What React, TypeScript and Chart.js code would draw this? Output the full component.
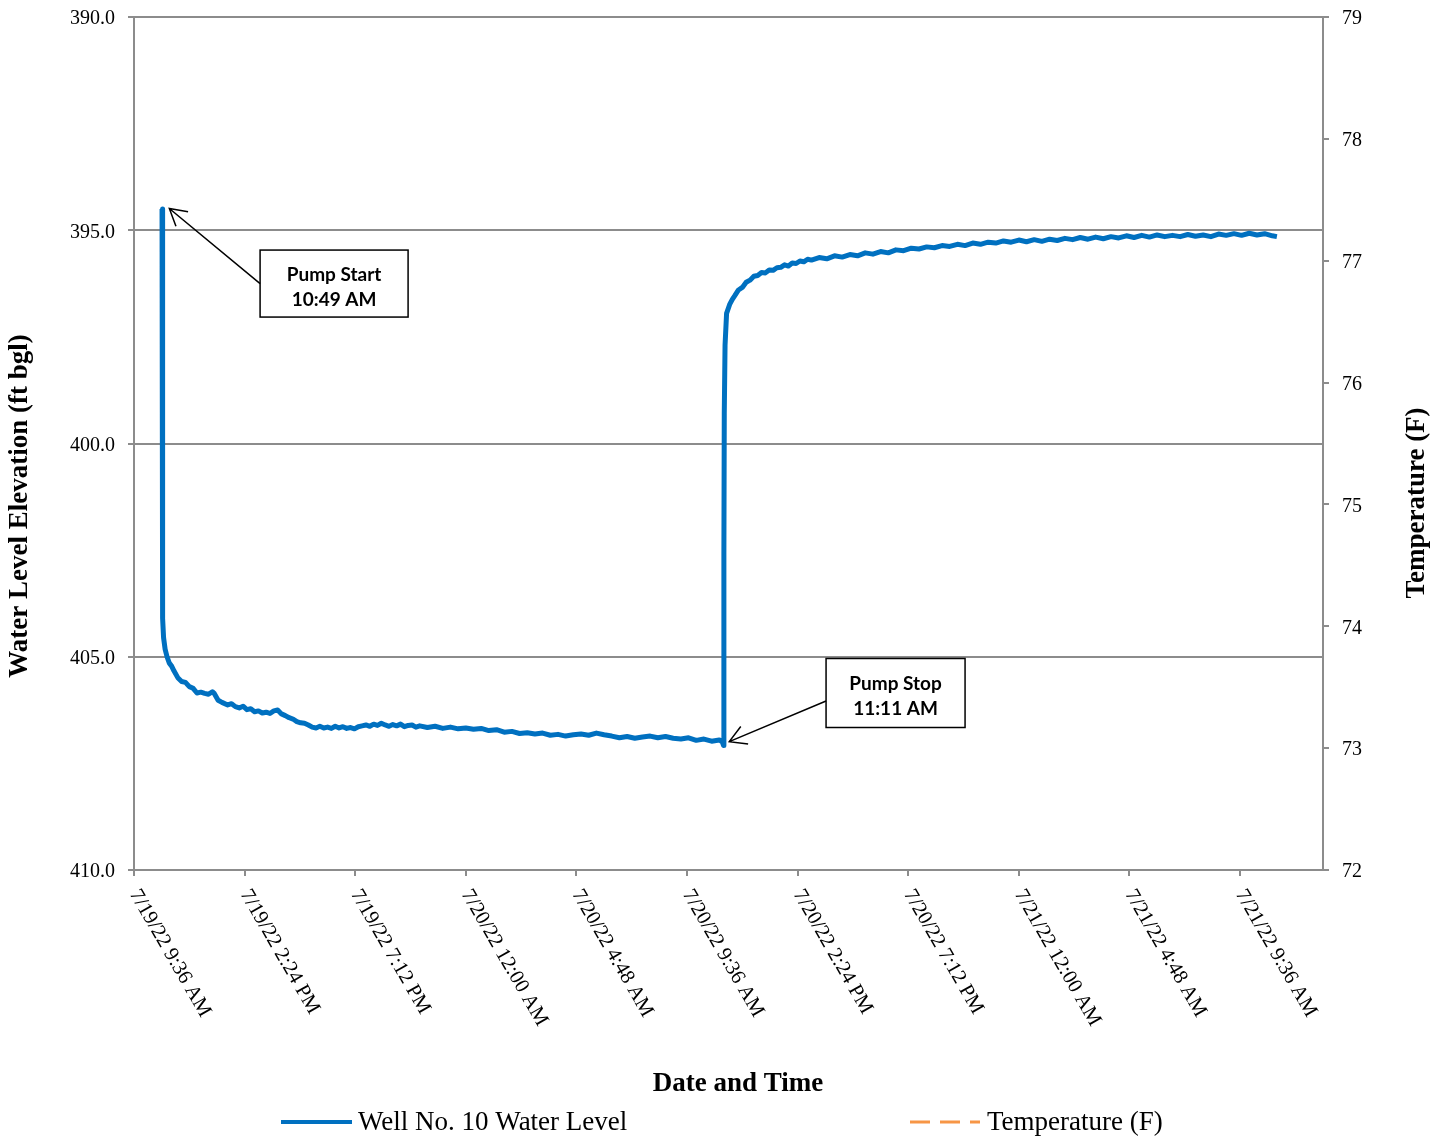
import React, { useEffect, useRef } from "react";
import { Chart, registerables } from "chart.js";

Chart.register(...registerables);

// ---------- DATA ----------
const X_MIN_TIME = "7/19 9:36";
const X_MAX_TIME = "7/21 13:12";

const X_TICK_TIMES = [
  "7/19 9:36", "7/19 14:24", "7/19 19:12", "7/20 0:00", "7/20 4:48", "7/20 9:36",
  "7/20 14:24", "7/20 19:12", "7/21 0:00", "7/21 4:48", "7/21 9:36",
];
const X_TICK_LABELS = [
  "7/19/22 9:36 AM", "7/19/22 2:24 PM", "7/19/22 7:12 PM", "7/20/22 12:00 AM",
  "7/20/22 4:48 AM", "7/20/22 9:36 AM", "7/20/22 2:24 PM", "7/20/22 7:12 PM",
  "7/21/22 12:00 AM", "7/21/22 4:48 AM", "7/21/22 9:36 AM",
];

// Pumping phase (7/19 10:49 AM start, through 7/20 11:11 AM stop)
const DRAWDOWN_TIMES = [
  "7/19 10:49", "7/19 10:50", "7/19 10:51", "7/19 10:53",
  "7/19 10:57", "7/19 11:02", "7/19 11:08", "7/19 11:14", "7/19 11:20", "7/19 11:30",
  "7/19 11:40", "7/19 11:50", "7/19 12:00", "7/19 12:10", "7/19 12:20", "7/19 12:30",
  "7/19 12:40", "7/19 12:50", "7/19 13:00", "7/19 13:05", "7/19 13:15", "7/19 13:25",
  "7/19 13:40", "7/19 13:50", "7/19 14:00", "7/19 14:10", "7/19 14:20", "7/19 14:30",
  "7/19 14:40", "7/19 14:50", "7/19 15:00", "7/19 15:10", "7/19 15:20", "7/19 15:30",
  "7/19 15:40", "7/19 15:50", "7/19 16:00", "7/19 16:10", "7/19 16:20", "7/19 16:30",
  "7/19 16:40", "7/19 16:50", "7/19 17:00", "7/19 17:10", "7/19 17:20", "7/19 17:30",
  "7/19 17:40", "7/19 17:50", "7/19 18:00", "7/19 18:10", "7/19 18:20", "7/19 18:30",
  "7/19 18:40", "7/19 18:50", "7/19 19:00", "7/19 19:10", "7/19 19:20", "7/19 19:30",
  "7/19 19:40", "7/19 19:50", "7/19 20:00", "7/19 20:10", "7/19 20:20", "7/19 20:30",
  "7/19 20:40", "7/19 20:50", "7/19 21:00", "7/19 21:10", "7/19 21:20", "7/19 21:30",
  "7/19 21:40", "7/19 21:50", "7/19 22:00", "7/19 22:20", "7/19 22:40", "7/19 23:00",
  "7/19 23:20", "7/19 23:40",
  "7/20 0:00", "7/20 0:20", "7/20 0:40", "7/20 1:00", "7/20 1:20", "7/20 1:40",
  "7/20 2:00", "7/20 2:20", "7/20 2:40", "7/20 3:00", "7/20 3:20", "7/20 3:40",
  "7/20 4:00", "7/20 4:20", "7/20 4:40", "7/20 5:00", "7/20 5:20", "7/20 5:40",
  "7/20 6:00", "7/20 6:20", "7/20 6:40", "7/20 7:00", "7/20 7:20", "7/20 7:40",
  "7/20 8:00", "7/20 8:20", "7/20 8:40", "7/20 9:00", "7/20 9:20", "7/20 9:40",
  "7/20 10:00", "7/20 10:20", "7/20 10:40", "7/20 11:00", "7/20 11:08", "7/20 11:11",
];
const DRAWDOWN_LEVELS = [
  394.5, 403.0, 404.1, 404.55,
  404.82, 405.0, 405.15, 405.22, 405.33, 405.49,
  405.58, 405.6, 405.7, 405.74, 405.85, 405.83,
  405.86, 405.88, 405.82, 405.86, 406.02, 406.07,
  406.13, 406.1, 406.17, 406.2, 406.16, 406.24,
  406.22, 406.29, 406.27, 406.32, 406.3, 406.33,
  406.27, 406.25, 406.34, 406.38, 406.43, 406.46,
  406.52, 406.55, 406.56, 406.6, 406.65, 406.67,
  406.63, 406.67, 406.65, 406.68, 406.63, 406.67,
  406.64, 406.68, 406.66, 406.69, 406.64, 406.62,
  406.6, 406.63, 406.58, 406.61, 406.56, 406.6,
  406.63, 406.59, 406.62, 406.58, 406.64, 406.61,
  406.6, 406.65, 406.62, 406.66, 406.63, 406.68,
  406.65, 406.69,
  406.67, 406.7, 406.68, 406.73, 406.71, 406.77,
  406.75, 406.8, 406.78, 406.81, 406.79, 406.84,
  406.82, 406.86, 406.83, 406.81, 406.84, 406.79,
  406.83, 406.86, 406.9, 406.87, 406.91, 406.88,
  406.86, 406.9, 406.87, 406.91, 406.93, 406.9,
  406.96, 406.93, 406.98, 406.95, 407.0, 407.08,
];

// Recovery phase (after 7/20 11:11 AM stop)
const RECOVERY_TIMES = [
  "7/20 11:12", "7/20 11:13", "7/20 11:15", "7/20 11:19", "7/20 11:27", "7/20 11:34",
  "7/20 11:40", "7/20 11:50", "7/20 12:00", "7/20 12:10", "7/20 12:20", "7/20 12:30",
  "7/20 12:40", "7/20 12:50", "7/20 13:00", "7/20 13:10", "7/20 13:20", "7/20 13:30",
  "7/20 13:40", "7/20 13:50", "7/20 14:00", "7/20 14:10", "7/20 14:20", "7/20 14:30",
  "7/20 14:40", "7/20 14:50", "7/20 15:00", "7/20 15:20", "7/20 15:40", "7/20 16:00",
  "7/20 16:20", "7/20 16:40", "7/20 17:00", "7/20 17:20", "7/20 17:40", "7/20 18:00",
  "7/20 18:20", "7/20 18:40", "7/20 19:00", "7/20 19:20", "7/20 19:40", "7/20 20:00",
  "7/20 20:20", "7/20 20:40", "7/20 21:00", "7/20 21:20", "7/20 21:40", "7/20 22:00",
  "7/20 22:20", "7/20 22:40", "7/20 23:00", "7/20 23:20", "7/20 23:40",
  "7/21 0:00", "7/21 0:20", "7/21 0:40", "7/21 1:00", "7/21 1:20", "7/21 1:40",
  "7/21 2:00", "7/21 2:20", "7/21 2:40", "7/21 3:00", "7/21 3:20", "7/21 3:40",
  "7/21 4:00", "7/21 4:20", "7/21 4:40", "7/21 5:00", "7/21 5:20", "7/21 5:40",
  "7/21 6:00", "7/21 6:20", "7/21 6:40", "7/21 7:00", "7/21 7:20", "7/21 7:40",
  "7/21 8:00", "7/21 8:20", "7/21 8:40", "7/21 9:00", "7/21 9:20", "7/21 9:40",
  "7/21 10:00", "7/21 10:20", "7/21 10:40", "7/21 11:00", "7/21 11:12",
];
const RECOVERY_LEVELS = [
  402.6, 399.3, 397.7, 396.95, 396.74, 396.62,
  396.54, 396.4, 396.34, 396.22, 396.17, 396.08,
  396.06, 395.99, 396.0, 395.93, 395.94, 395.88,
  395.87, 395.81, 395.84, 395.77, 395.78, 395.72,
  395.74, 395.68, 395.7, 395.64, 395.67, 395.6,
  395.63, 395.57, 395.6, 395.53, 395.56, 395.5,
  395.53, 395.46, 395.48, 395.42, 395.44, 395.39,
  395.41, 395.36, 395.38, 395.33, 395.36, 395.3,
  395.33, 395.28, 395.3, 395.25, 395.28,
  395.23, 395.27, 395.22, 395.26, 395.21, 395.24,
  395.19, 395.22, 395.17, 395.21, 395.16, 395.2,
  395.15, 395.18, 395.13, 395.17, 395.12, 395.16,
  395.11, 395.15, 395.12, 395.15, 395.1, 395.14,
  395.11, 395.15, 395.09, 395.12, 395.08, 395.12,
  395.07, 395.11, 395.08, 395.13, 395.15,
];

// Temperature series: no readings plotted within the displayed range
const TEMPERATURE_TIMES: string[] = [];
const TEMPERATURE_VALUES: number[] = [];

const LEVEL_TICKS = { min: 390, max: 410, step: 5 };
const TEMP_TICKS = { min: 72, max: 79, step: 1 };

const SERIES_LABELS = ["Well No. 10 Water Level", "Temperature (F)"];

const ANNOTATIONS = [
  { lines: ["Pump Start", "10:49 AM"], boxTime: "7/19 18:17", boxLevel: 396.25, w: 148, h: 67, tipTime: "7/19 11:08", tipLevel: 394.49, startDy: 0 },
  { lines: ["Pump Stop", "11:11 AM"], boxTime: "7/20 18:39", boxLevel: 405.85, w: 139, h: 69, tipTime: "7/20 11:26", tipLevel: 406.99, startDy: 8 },
];

// ---------- helpers ----------
function parseTime(s: string): number {
  const [d, hm] = s.split(" ");
  const [, day] = d.split("/").map(Number);
  const [h, m] = hm.split(":").map(Number);
  return (day - 19) * 24 + h + m / 60;
}

const GRAY = "#8c8c8c";
const BLUE = "#0070C0";
const ORANGE = "#F79646";
const SERIF = "'Liberation Serif', 'Times New Roman', serif";

export default function App() {
  const ref = useRef<HTMLCanvasElement | null>(null);

  useEffect(() => {
    document.body.style.margin = "0";
    const canvas = ref.current;
    if (!canvas) return;

    const levelData = [
      ...DRAWDOWN_TIMES.map((t, i) => ({ x: parseTime(t), y: DRAWDOWN_LEVELS[i] })),
      ...RECOVERY_TIMES.map((t, i) => ({ x: parseTime(t), y: RECOVERY_LEVELS[i] })),
    ];
    const tempData = TEMPERATURE_TIMES.map((t, i) => ({ x: parseTime(t), y: TEMPERATURE_VALUES[i] }));

    const overlay = {
      id: "overlay",
      afterDraw(chart: any) {
        const ctx = chart.ctx as CanvasRenderingContext2D;
        const xs = chart.scales.x;
        const ys = chart.scales.y;
        ctx.save();
        // x tick labels rotated
        ctx.fillStyle = "#000";
        ctx.font = `20.7px ${SERIF}`;
        ctx.textAlign = "left";
        ctx.textBaseline = "middle";
        X_TICK_TIMES.forEach((t, i) => {
          const px = xs.getPixelForValue(parseTime(t));
          ctx.save();
          ctx.translate(px, 891);
          ctx.rotate((60 * Math.PI) / 180);
          ctx.fillText(X_TICK_LABELS[i], 0, 0);
          ctx.restore();
        });
        // axis titles
        ctx.font = `bold 27px ${SERIF}`;
        ctx.textAlign = "center";
        ctx.textBaseline = "middle";
        ctx.fillText("Date and Time", 738, 1084);
        ctx.save();
        ctx.translate(20, 506);
        ctx.rotate(-Math.PI / 2);
        ctx.fillText("Water Level Elevation (ft bgl)", 0, 0);
        ctx.restore();
        ctx.save();
        ctx.translate(1417, 503);
        ctx.rotate(-Math.PI / 2);
        ctx.fillText("Temperature (F)", 0, 0);
        ctx.restore();

        // legend
        const ly = 1122;
        ctx.lineCap = "butt";
        ctx.strokeStyle = BLUE;
        ctx.lineWidth = 4;
        ctx.beginPath();
        ctx.moveTo(281, ly);
        ctx.lineTo(352, ly);
        ctx.stroke();
        ctx.strokeStyle = ORANGE;
        ctx.lineWidth = 3;
        ctx.setLineDash([20, 10]);
        ctx.beginPath();
        ctx.moveTo(910, ly);
        ctx.lineTo(980, ly);
        ctx.stroke();
        ctx.setLineDash([]);
        ctx.font = `27px ${SERIF}`;
        ctx.textAlign = "left";
        ctx.textBaseline = "middle";
        ctx.fillStyle = "#000";
        ctx.fillText(SERIES_LABELS[0], 358, ly + 1);
        ctx.fillText(SERIES_LABELS[1], 987, ly + 1);

        // annotations
        ANNOTATIONS.forEach((a) => {
          const cx = xs.getPixelForValue(parseTime(a.boxTime));
          const cy = ys.getPixelForValue(a.boxLevel);
          const left = cx - a.w / 2;
          const top = cy - a.h / 2;
          ctx.fillStyle = "#fff";
          ctx.fillRect(left, top, a.w, a.h);
          ctx.strokeStyle = "#000";
          ctx.lineWidth = 1.5;
          ctx.strokeRect(left, top, a.w, a.h);
          ctx.fillStyle = "#000";
          ctx.font = "bold 19px Lato, 'Open Sans', sans-serif";
          ctx.textAlign = "center";
          ctx.textBaseline = "alphabetic";
          ctx.fillText(a.lines[0], cx, cy - 3);
          ctx.fillText(a.lines[1], cx, cy + 22);
          // arrow
          const sx = left;
          const sy = cy + a.startDy;
          const tx = xs.getPixelForValue(parseTime(a.tipTime));
          const ty = ys.getPixelForValue(a.tipLevel);
          ctx.beginPath();
          ctx.moveTo(sx, sy);
          ctx.lineTo(tx, ty);
          const ang = Math.atan2(sy - ty, sx - tx);
          const hl = 19;
          const spread = (30 * Math.PI) / 180;
          ctx.moveTo(tx + hl * Math.cos(ang - spread), ty + hl * Math.sin(ang - spread));
          ctx.lineTo(tx, ty);
          ctx.lineTo(tx + hl * Math.cos(ang + spread), ty + hl * Math.sin(ang + spread));
          ctx.stroke();
        });
        ctx.restore();
      },
    };

    const chart = new Chart(canvas, {
      type: "line",
      data: {
        datasets: [
          {
            label: SERIES_LABELS[0],
            data: levelData,
            borderColor: BLUE,
            backgroundColor: BLUE,
            borderWidth: 5,
            pointRadius: 0,
            tension: 0,
            borderJoinStyle: "round",
            yAxisID: "y",
          },
          {
            label: SERIES_LABELS[1],
            data: tempData,
            borderColor: ORANGE,
            backgroundColor: ORANGE,
            borderWidth: 3,
            borderDash: [20, 10],
            pointRadius: 0,
            yAxisID: "y2",
          },
        ],
      },
      options: {
        responsive: false,
        animation: false,
        devicePixelRatio: 1,
        layout: { padding: { top: 17, left: 0, right: 0, bottom: 0 } },
        plugins: { legend: { display: false }, tooltip: { enabled: false }, title: { display: false } },
        scales: {
          x: {
            type: "linear",
            min: parseTime(X_MIN_TIME),
            max: parseTime(X_MAX_TIME),
            afterBuildTicks: (s: any) => {
              s.ticks = X_TICK_TIMES.map((t) => ({ value: parseTime(t) }));
            },
            ticks: { display: false },
            grid: { drawOnChartArea: false, drawTicks: true, tickLength: 6, color: GRAY, lineWidth: 2 },
            border: { display: true, color: GRAY, width: 2 },
            afterFit: (s: any) => {
              s.height = 271;
              s.paddingLeft = 0;
              s.paddingRight = 0;
            },
          },
          y: {
            position: "left",
            reverse: true,
            min: LEVEL_TICKS.min,
            max: LEVEL_TICKS.max,
            ticks: {
              stepSize: LEVEL_TICKS.step,
              callback: (v: any) => Number(v).toFixed(1),
              font: { family: SERIF, size: 20 },
              color: "#000",
              padding: 13,
              labelOffset: 2,
            },
            grid: { color: GRAY, lineWidth: 2, tickLength: 6 },
            border: { display: true, color: GRAY, width: 2 },
            afterFit: (s: any) => {
              s.width = 134;
              s.paddingTop = 0;
              s.paddingBottom = 0;
            },
          },
          y2: {
            position: "right",
            min: TEMP_TICKS.min,
            max: TEMP_TICKS.max,
            ticks: {
              stepSize: TEMP_TICKS.step,
              font: { family: SERIF, size: 20 },
              color: "#000",
              padding: 13,
              labelOffset: 2,
            },
            grid: { drawOnChartArea: false, color: GRAY, lineWidth: 2, tickLength: 6 },
            border: { display: true, color: GRAY, width: 2 },
            afterFit: (s: any) => {
              s.width = 125;
              s.paddingTop = 0;
              s.paddingBottom = 0;
            },
          },
        },
      },
      plugins: [overlay],
    } as any);

    return () => chart.destroy();
  }, []);

  return (
    <div style={{ width: 1448, height: 1141, background: "#fff" }}>
      <canvas ref={ref} width={1448} height={1141} style={{ display: "block" }} />
    </div>
  );
}
